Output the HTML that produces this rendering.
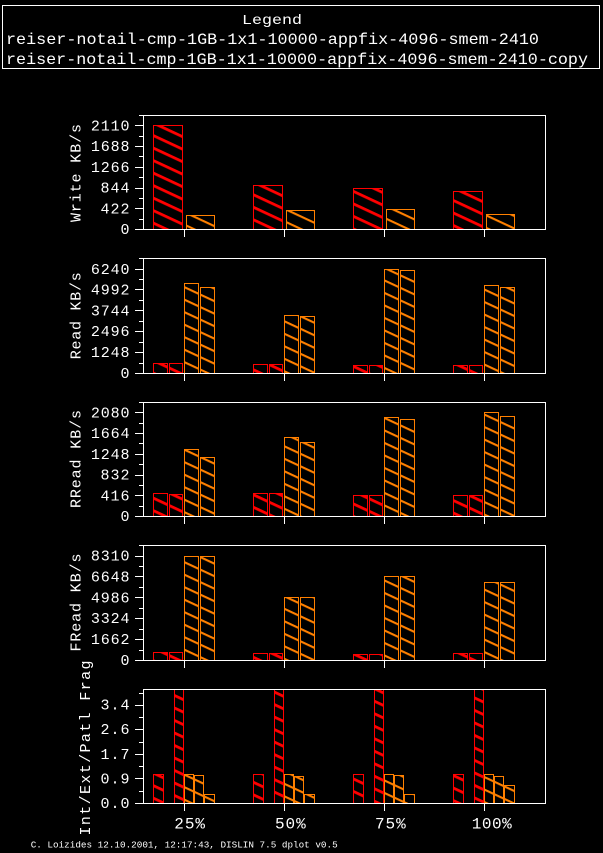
<!DOCTYPE html>
<html><head><meta charset="utf-8"><style>
html,body{margin:0;padding:0;background:#000;}
svg{display:block;}
text{font-family:"Liberation Mono","DejaVu Sans Mono",monospace;fill:#fff;}
</style></head><body>
<svg width="603" height="853" viewBox="0 0 603 853" xmlns="http://www.w3.org/2000/svg">
<defs>
<pattern id="pr" patternUnits="userSpaceOnUse" width="40" height="11.33" patternTransform="rotate(25)"><rect x="0" y="0" width="40" height="2.8" fill="#ff0000"/></pattern>
<pattern id="po" patternUnits="userSpaceOnUse" width="40" height="11.33" patternTransform="rotate(25)"><rect x="0" y="0" width="40" height="2.1" fill="#ff8000"/></pattern>
</defs>
<rect width="603" height="853" fill="#000"/>

<!-- Legend -->
<rect x="2.5" y="5.5" width="597" height="63" fill="none" stroke="#fff" stroke-width="1"/>
<text x="272" y="24" font-size="14" text-anchor="middle" textLength="60" lengthAdjust="spacingAndGlyphs">Legend</text>
<text x="6" y="44" font-size="16" textLength="533" lengthAdjust="spacingAndGlyphs">reiser-notail-cmp-1GB-1x1-10000-appfix-4096-smem-2410</text>
<text x="6" y="64" font-size="16" textLength="582" lengthAdjust="spacingAndGlyphs">reiser-notail-cmp-1GB-1x1-10000-appfix-4096-smem-2410-copy</text>

<!-- Bars panel 1 -->
<g stroke-width="1">
<rect x="153.5" y="125.5" width="29" height="104" fill="url(#pr)" stroke="#f00"/>
<rect x="186.5" y="215.5" width="28" height="14" fill="url(#po)" stroke="#ff8000"/>
<rect x="253.5" y="185.5" width="29" height="44" fill="url(#pr)" stroke="#f00"/>
<rect x="286.5" y="210.5" width="28" height="19" fill="url(#po)" stroke="#ff8000"/>
<rect x="353.5" y="188.5" width="29" height="41" fill="url(#pr)" stroke="#f00"/>
<rect x="386.5" y="209.5" width="28" height="20" fill="url(#po)" stroke="#ff8000"/>
<rect x="453.5" y="191.5" width="29" height="38" fill="url(#pr)" stroke="#f00"/>
<rect x="486.5" y="214.5" width="28" height="15" fill="url(#po)" stroke="#ff8000"/>

<!-- panel 2 -->
<rect x="153.5" y="363.5" width="14" height="10" fill="url(#pr)" stroke="#f00"/>
<rect x="169.5" y="363.5" width="13" height="10" fill="url(#pr)" stroke="#f00"/>
<rect x="184.5" y="283.5" width="14" height="90" fill="url(#po)" stroke="#ff8000"/>
<rect x="200.5" y="287.5" width="14" height="86" fill="url(#po)" stroke="#ff8000"/>
<rect x="253.5" y="364.5" width="14" height="9" fill="url(#pr)" stroke="#f00"/>
<rect x="269.5" y="364.5" width="13" height="9" fill="url(#pr)" stroke="#f00"/>
<rect x="284.5" y="315.5" width="14" height="58" fill="url(#po)" stroke="#ff8000"/>
<rect x="300.5" y="316.5" width="14" height="57" fill="url(#po)" stroke="#ff8000"/>
<rect x="353.5" y="365.5" width="14" height="8" fill="url(#pr)" stroke="#f00"/>
<rect x="369.5" y="365.5" width="13" height="8" fill="url(#pr)" stroke="#f00"/>
<rect x="384.5" y="269.5" width="14" height="104" fill="url(#po)" stroke="#ff8000"/>
<rect x="400.5" y="270.5" width="14" height="103" fill="url(#po)" stroke="#ff8000"/>
<rect x="453.5" y="365.5" width="14" height="8" fill="url(#pr)" stroke="#f00"/>
<rect x="469.5" y="365.5" width="13" height="8" fill="url(#pr)" stroke="#f00"/>
<rect x="484.5" y="285.5" width="14" height="88" fill="url(#po)" stroke="#ff8000"/>
<rect x="500.5" y="287.5" width="14" height="86" fill="url(#po)" stroke="#ff8000"/>

<!-- panel 3 -->
<rect x="153.5" y="493.5" width="14" height="23" fill="url(#pr)" stroke="#f00"/>
<rect x="169.5" y="494.5" width="13" height="22" fill="url(#pr)" stroke="#f00"/>
<rect x="184.5" y="449.5" width="14" height="67" fill="url(#po)" stroke="#ff8000"/>
<rect x="200.5" y="457.5" width="14" height="59" fill="url(#po)" stroke="#ff8000"/>
<rect x="253.5" y="493.5" width="14" height="23" fill="url(#pr)" stroke="#f00"/>
<rect x="269.5" y="493.5" width="13" height="23" fill="url(#pr)" stroke="#f00"/>
<rect x="284.5" y="437.5" width="14" height="79" fill="url(#po)" stroke="#ff8000"/>
<rect x="300.5" y="442.5" width="14" height="74" fill="url(#po)" stroke="#ff8000"/>
<rect x="353.5" y="495.5" width="14" height="21" fill="url(#pr)" stroke="#f00"/>
<rect x="369.5" y="495.5" width="13" height="21" fill="url(#pr)" stroke="#f00"/>
<rect x="384.5" y="417.5" width="14" height="99" fill="url(#po)" stroke="#ff8000"/>
<rect x="400.5" y="419.5" width="14" height="97" fill="url(#po)" stroke="#ff8000"/>
<rect x="453.5" y="495.5" width="14" height="21" fill="url(#pr)" stroke="#f00"/>
<rect x="469.5" y="495.5" width="13" height="21" fill="url(#pr)" stroke="#f00"/>
<rect x="484.5" y="412.5" width="14" height="104" fill="url(#po)" stroke="#ff8000"/>
<rect x="500.5" y="416.5" width="14" height="100" fill="url(#po)" stroke="#ff8000"/>

<!-- panel 4 -->
<rect x="153.5" y="652.5" width="14" height="8" fill="url(#pr)" stroke="#f00"/>
<rect x="169.5" y="652.5" width="13" height="8" fill="url(#pr)" stroke="#f00"/>
<rect x="184.5" y="556.5" width="14" height="104" fill="url(#po)" stroke="#ff8000"/>
<rect x="200.5" y="556.5" width="14" height="104" fill="url(#po)" stroke="#ff8000"/>
<rect x="253.5" y="653.5" width="14" height="7" fill="url(#pr)" stroke="#f00"/>
<rect x="269.5" y="653.5" width="13" height="7" fill="url(#pr)" stroke="#f00"/>
<rect x="284.5" y="597.5" width="14" height="63" fill="url(#po)" stroke="#ff8000"/>
<rect x="300.5" y="597.5" width="14" height="63" fill="url(#po)" stroke="#ff8000"/>
<rect x="353.5" y="654.5" width="14" height="6" fill="url(#pr)" stroke="#f00"/>
<rect x="369.5" y="654.5" width="13" height="6" fill="url(#pr)" stroke="#f00"/>
<rect x="384.5" y="576.5" width="14" height="84" fill="url(#po)" stroke="#ff8000"/>
<rect x="400.5" y="576.5" width="14" height="84" fill="url(#po)" stroke="#ff8000"/>
<rect x="453.5" y="653.5" width="14" height="7" fill="url(#pr)" stroke="#f00"/>
<rect x="469.5" y="653.5" width="13" height="7" fill="url(#pr)" stroke="#f00"/>
<rect x="484.5" y="582.5" width="14" height="78" fill="url(#po)" stroke="#ff8000"/>
<rect x="500.5" y="582.5" width="14" height="78" fill="url(#po)" stroke="#ff8000"/>

<!-- panel 5 -->
<rect x="153.5" y="774.5" width="10" height="29" fill="url(#pr)" stroke="#f00"/>
<rect x="174.5" y="689.5" width="9" height="114" fill="url(#pr)" stroke="#f00"/>
<rect x="184.5" y="774.5" width="9" height="29" fill="url(#po)" stroke="#ff8000"/>
<rect x="194.5" y="775.5" width="9" height="28" fill="url(#po)" stroke="#ff8000"/>
<rect x="204.5" y="794.5" width="10" height="9" fill="url(#po)" stroke="#ff8000"/>
<rect x="253.5" y="774.5" width="10" height="29" fill="url(#pr)" stroke="#f00"/>
<rect x="274.5" y="689.5" width="9" height="114" fill="url(#pr)" stroke="#f00"/>
<rect x="284.5" y="774.5" width="9" height="29" fill="url(#po)" stroke="#ff8000"/>
<rect x="294.5" y="776.5" width="9" height="27" fill="url(#po)" stroke="#ff8000"/>
<rect x="304.5" y="794.5" width="10" height="9" fill="url(#po)" stroke="#ff8000"/>
<rect x="353.5" y="774.5" width="10" height="29" fill="url(#pr)" stroke="#f00"/>
<rect x="374.5" y="689.5" width="9" height="114" fill="url(#pr)" stroke="#f00"/>
<rect x="384.5" y="774.5" width="9" height="29" fill="url(#po)" stroke="#ff8000"/>
<rect x="394.5" y="775.5" width="9" height="28" fill="url(#po)" stroke="#ff8000"/>
<rect x="404.5" y="794.5" width="10" height="9" fill="url(#po)" stroke="#ff8000"/>
<rect x="453.5" y="774.5" width="10" height="29" fill="url(#pr)" stroke="#f00"/>
<rect x="474.5" y="689.5" width="9" height="114" fill="url(#pr)" stroke="#f00"/>
<rect x="484.5" y="774.5" width="9" height="29" fill="url(#po)" stroke="#ff8000"/>
<rect x="494.5" y="776.5" width="9" height="27" fill="url(#po)" stroke="#ff8000"/>
<rect x="504.5" y="785.5" width="10" height="18" fill="url(#po)" stroke="#ff8000"/>
</g>

<!-- Axes boxes -->
<g fill="none" stroke="#fff" stroke-width="1">
<rect x="143.5" y="115.5" width="402" height="114"/>
<rect x="143.5" y="258.5" width="402" height="115"/>
<rect x="143.5" y="402.5" width="402" height="114"/>
<rect x="143.5" y="545.5" width="402" height="115"/>
<rect x="143.5" y="689.5" width="402" height="114"/>
<!-- y ticks -->
<path d="M135 229.5h8M139 219.5h4M135 208.5h8M139 198.5h4M135 188.5h8M139 177.5h4M135 167.5h8M139 156.5h4M135 146.5h8M139 136.5h4M135 125.5h8M139 115.5h4"/>
<path d="M135 373.5h8M139 363.5h4M135 352.5h8M139 342.5h4M135 331.5h8M139 321.5h4M135 310.5h8M139 300.5h4M135 289.5h8M139 279.5h4M135 269.5h8M139 258.5h4"/>
<path d="M135 516.5h8M139 506.5h4M135 495.5h8M139 485.5h4M135 475.5h8M139 464.5h4M135 454.5h8M139 443.5h4M135 433.5h8M139 423.5h4M135 412.5h8M139 402.5h4"/>
<path d="M135 660.5h8M139 650.5h4M135 639.5h8M139 629.5h4M135 618.5h8M139 608.5h4M135 597.5h8M139 587.5h4M135 576.5h8M139 566.5h4M135 556.5h8M139 545.5h4"/>
<path d="M135 803.5h8M139 791.5h4M135 778.5h8M139 766.5h4M135 754.5h8M139 742.5h4M135 729.5h8M139 717.5h4M135 705.5h8M139 693.5h4"/>
<!-- x ticks -->
<path d="M184.5 230v7M284.5 230v7M384.5 230v7M484.5 230v7"/>
<path d="M184.5 374v7M284.5 374v7M384.5 374v7M484.5 374v7"/>
<path d="M184.5 517v7M284.5 517v7M384.5 517v7M484.5 517v7"/>
<path d="M184.5 661v7M284.5 661v7M384.5 661v7M484.5 661v7"/>
<path d="M184.5 804v7M284.5 804v7M384.5 804v7M484.5 804v7"/>
</g>

<!-- y tick labels -->
<g font-size="15" text-anchor="end" lengthAdjust="spacingAndGlyphs">
<text x="129.5" y="234" textLength="9.6">0</text>
<text x="129.5" y="213.3" textLength="29">422</text>
<text x="129.5" y="192.5" textLength="29">844</text>
<text x="129.5" y="171.8" textLength="38.6">1266</text>
<text x="129.5" y="151.1" textLength="38.6">1688</text>
<text x="129.5" y="130.4" textLength="38.6">2110</text>

<text x="129.5" y="378" textLength="9.6">0</text>
<text x="129.5" y="357.1" textLength="38.6">1248</text>
<text x="129.5" y="336.2" textLength="38.6">2496</text>
<text x="129.5" y="315.3" textLength="38.6">3744</text>
<text x="129.5" y="294.4" textLength="38.6">4992</text>
<text x="129.5" y="274" textLength="38.6">6240</text>

<text x="129.5" y="521" textLength="9.6">0</text>
<text x="129.5" y="500.3" textLength="29">416</text>
<text x="129.5" y="479.5" textLength="29">832</text>
<text x="129.5" y="458.8" textLength="38.6">1248</text>
<text x="129.5" y="438.1" textLength="38.6">1664</text>
<text x="129.5" y="417.4" textLength="38.6">2080</text>

<text x="129.5" y="665" textLength="9.6">0</text>
<text x="129.5" y="644.1" textLength="38.6">1662</text>
<text x="129.5" y="623.2" textLength="38.6">3324</text>
<text x="129.5" y="602.3" textLength="38.6">4986</text>
<text x="129.5" y="581.4" textLength="38.6">6648</text>
<text x="129.5" y="560.5" textLength="38.6">8310</text>

<text x="129.5" y="808" textLength="29">0.0</text>
<text x="129.5" y="783.4" textLength="29">0.9</text>
<text x="129.5" y="758.8" textLength="29">1.7</text>
<text x="129.5" y="734.2" textLength="29">2.6</text>
<text x="129.5" y="709.6" textLength="29">3.4</text>
</g>

<!-- axis titles -->
<g font-size="15" text-anchor="middle" lengthAdjust="spacingAndGlyphs">
<text transform="translate(80.7,173) rotate(-90)" textLength="98">Write KB/s</text>
<text transform="translate(80.7,315.7) rotate(-90)" textLength="87">Read KB/s</text>
<text transform="translate(80.7,459) rotate(-90)" textLength="98">RRead KB/s</text>
<text transform="translate(80.7,602.5) rotate(-90)" textLength="98">FRead KB/s</text>
<text transform="translate(90,748) rotate(-90)" textLength="175">Int/Ext/Patl Frag</text>
</g>

<!-- x labels -->
<g font-size="16" lengthAdjust="spacingAndGlyphs">
<text x="174.3" y="828.5" textLength="30.7">25%</text>
<text x="275" y="828.5" textLength="30.7">50%</text>
<text x="375" y="828.5" textLength="30.7">75%</text>
<text x="471.7" y="828.5" textLength="40">100%</text>
</g>

<!-- footer -->
<text x="30.7" y="847.5" font-size="9.5" textLength="307" lengthAdjust="spacingAndGlyphs">C. Loizides 12.10.2001, 12:17:43, DISLIN 7.5 dplot v0.5</text>
</svg>
</body></html>
